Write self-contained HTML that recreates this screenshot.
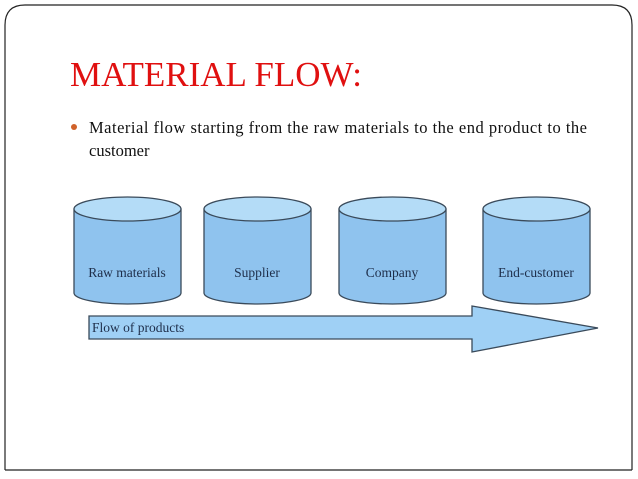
<!DOCTYPE html>
<html><head><style>
html,body{margin:0;padding:0;background:#fff;}
svg{display:block;}
</style></head><body>
<svg width="638" height="479" viewBox="0 0 638 479" xmlns="http://www.w3.org/2000/svg">
<rect x="0" y="0" width="638" height="479" fill="#fff"/>
<path d="M5 470 L5 25 Q5 5 25 5 L612 5 Q632 5 632 25 L632 470" fill="none" stroke="#222" stroke-width="1.2"/>
<line x1="5" y1="470" x2="632" y2="470" stroke="#222" stroke-width="1.2"/>
<text x="70" y="86" font-family="Liberation Serif, serif" font-size="35" fill="#e01010">MATERIAL FLOW:</text>
<circle cx="74" cy="127" r="3" fill="#d0622a"/>
<text x="89" y="133" font-family="Liberation Serif, serif" font-size="16.5" fill="#111" textLength="498" lengthAdjust="spacing">Material flow starting from the raw materials to the end product to the</text>
<text x="89" y="156" font-family="Liberation Serif, serif" font-size="16.5" fill="#111">customer</text>
<g font-family="Liberation Serif, serif" font-size="13.5" fill="#1e2e4a" text-anchor="middle">
<path d="M74 209 L74 293 A53.5 11 0 0 0 181 293 L181 209 Z" fill="#8fc3ee" stroke="#3a4a5a" stroke-width="1.3"/>
<ellipse cx="127.5" cy="209" rx="53.5" ry="12" fill="#b4dcf7" stroke="#3a4a5a" stroke-width="1.3"/>
<text x="127" y="277">Raw materials</text>
<path d="M204 209 L204 293 A53.5 11 0 0 0 311 293 L311 209 Z" fill="#8fc3ee" stroke="#3a4a5a" stroke-width="1.3"/>
<ellipse cx="257.5" cy="209" rx="53.5" ry="12" fill="#b4dcf7" stroke="#3a4a5a" stroke-width="1.3"/>
<text x="257" y="277">Supplier</text>
<path d="M339 209 L339 293 A53.5 11 0 0 0 446 293 L446 209 Z" fill="#8fc3ee" stroke="#3a4a5a" stroke-width="1.3"/>
<ellipse cx="392.5" cy="209" rx="53.5" ry="12" fill="#b4dcf7" stroke="#3a4a5a" stroke-width="1.3"/>
<text x="392" y="277">Company</text>
<path d="M483 209 L483 293 A53.5 11 0 0 0 590 293 L590 209 Z" fill="#8fc3ee" stroke="#3a4a5a" stroke-width="1.3"/>
<ellipse cx="536.5" cy="209" rx="53.5" ry="12" fill="#b4dcf7" stroke="#3a4a5a" stroke-width="1.3"/>
<text x="536" y="277">End-customer</text>
</g>
<path d="M89 316 L472 316 L472 306 L598 328 L472 352 L472 339 L89 339 Z" fill="#9fd0f5" stroke="#3a4a5a" stroke-width="1.3"/>
<text x="92" y="332" font-family="Liberation Serif, serif" font-size="13.5" fill="#1e2e4a">Flow of products</text>
</svg>
</body></html>
